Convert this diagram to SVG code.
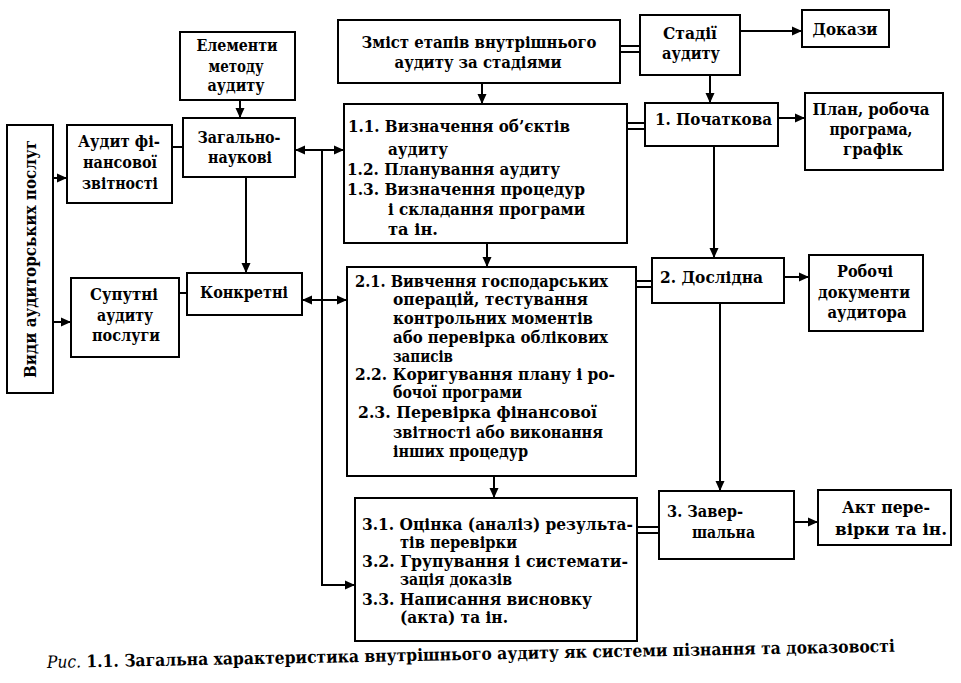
<svg xmlns="http://www.w3.org/2000/svg" width="961" height="683" viewBox="0 0 961 683" font-family="DejaVu Serif Condensed, DejaVu Serif, serif" font-weight="bold" font-size="16">
<defs>
<marker id="ah" viewBox="0 0 10 10" refX="10" refY="5" markerWidth="10" markerHeight="10" markerUnits="userSpaceOnUse" orient="auto-start-reverse">
<path d="M0,0.5 L10,5 L0,9.5 Z" fill="#000"/>
</marker>
<style>
rect{fill:#fff;stroke:#000;stroke-width:2}
text{fill:#000}
.c{text-anchor:middle}
.ln{fill:none;stroke:#000;stroke-width:2}
.ar{fill:none;stroke:#000;stroke-width:2;marker-end:url(#ah)}
.ar2{fill:none;stroke:#000;stroke-width:2;marker-end:url(#ah);marker-start:url(#ah)}
</style>
</defs>
<rect x="0" y="0" width="961" height="683" style="fill:#fff;stroke:none"/>

<g id="connectors">
<path class="ar" d="M53,178 H67"/>
<path class="ar" d="M53,322 H71"/>
<path class="ln" d="M172,147 H183"/>
<path class="ln" d="M179,293 H187"/>
<path class="ar" d="M240,100 V118"/>
<path class="ar" d="M246,177 V273"/>
<path class="ar2" d="M295,150 H344"/>
<path class="ar2" d="M302,300 H347"/>
<path class="ar" d="M322,150 V585 H355"/>
<path class="ar" d="M482,83 V104"/>
<path class="ar" d="M487,243 V267"/>
<path class="ar" d="M494,476 V498"/>
<path class="ln" d="M620,46 H640 M620,52 H640"/>
<path class="ln" d="M627,123 H645 M627,129 H645"/>
<path class="ln" d="M636,281 H652 M636,287 H652"/>
<path class="ln" d="M637,527 H659 M637,533 H659"/>
<path class="ar" d="M740,31 H802"/>
<path class="ar" d="M710,75 V103"/>
<path class="ar" d="M778,118 H805"/>
<path class="ar" d="M714,146 V258"/>
<path class="ar" d="M784,277 H809"/>
<path class="ar" d="M720,303 V491"/>
<path class="ar" d="M794,522 H818"/>
</g>

<g id="vydy">
<rect x="7" y="125" width="46" height="268"/>
<text class="c" transform="translate(36,259) rotate(-90)" textLength="238" lengthAdjust="spacingAndGlyphs">Види аудиторських послуг</text>
</g>
<g id="audyt-fin">
<rect x="67" y="125" width="105" height="78"/>
<text class="c" x="119" y="147" textLength="82" lengthAdjust="spacingAndGlyphs">Аудит фі-</text>
<text class="c" x="120" y="168" textLength="74" lengthAdjust="spacingAndGlyphs">нансової</text>
<text class="c" x="120" y="189" textLength="76" lengthAdjust="spacingAndGlyphs">звітності</text>
</g>
<g id="elementy">
<rect x="180" y="32" width="115" height="68"/>
<text class="c" x="237" y="51" textLength="81" lengthAdjust="spacingAndGlyphs">Елементи</text>
<text class="c" x="236" y="72" textLength="55" lengthAdjust="spacingAndGlyphs">методу</text>
<text class="c" x="236" y="91" textLength="57" lengthAdjust="spacingAndGlyphs">аудиту</text>
</g>
<g id="zagalno">
<rect x="183" y="118" width="112" height="59"/>
<text class="c" x="239" y="143" textLength="83" lengthAdjust="spacingAndGlyphs">Загально-</text>
<text class="c" x="240" y="163" textLength="64" lengthAdjust="spacingAndGlyphs">наукові</text>
</g>
<g id="suputni">
<rect x="71" y="278" width="108" height="79"/>
<text class="c" x="124" y="300" textLength="68" lengthAdjust="spacingAndGlyphs">Супутні</text>
<text class="c" x="125" y="321" textLength="56" lengthAdjust="spacingAndGlyphs">аудиту</text>
<text class="c" x="126" y="341" textLength="68" lengthAdjust="spacingAndGlyphs">послуги</text>
</g>
<g id="konkretni">
<rect x="187" y="273" width="115" height="42"/>
<text class="c" x="244" y="298" textLength="88" lengthAdjust="spacingAndGlyphs">Конкретні</text>
</g>
<g id="zmist">
<rect x="338" y="20" width="282" height="63"/>
<text class="c" x="479" y="48" textLength="235" lengthAdjust="spacingAndGlyphs">Зміст етапів внутрішнього</text>
<text class="c" x="478" y="68" textLength="167" lengthAdjust="spacingAndGlyphs">аудиту за стадіями</text>
</g>
<g id="stadii">
<rect x="640" y="15" width="100" height="60"/>
<text class="c" x="690" y="39" textLength="54" lengthAdjust="spacingAndGlyphs">Стадії</text>
<text class="c" x="691" y="59" textLength="58" lengthAdjust="spacingAndGlyphs">аудиту</text>
</g>
<g id="dokazy">
<rect x="802" y="10" width="87" height="37"/>
<text class="c" x="845" y="35" textLength="65" lengthAdjust="spacingAndGlyphs">Докази</text>
</g>
<g id="etap1">
<rect x="344" y="104" width="283" height="139"/>
<text x="348" y="132" textLength="222" lengthAdjust="spacingAndGlyphs">1.1. Визначення об’єктів</text>
<text x="388" y="155" textLength="60" lengthAdjust="spacingAndGlyphs">аудиту</text>
<text x="347" y="175" textLength="213" lengthAdjust="spacingAndGlyphs">1.2. Планування аудиту</text>
<text x="347" y="195" textLength="238" lengthAdjust="spacingAndGlyphs">1.3. Визначення процедур</text>
<text x="388" y="215" textLength="197" lengthAdjust="spacingAndGlyphs">і складання програми</text>
<text x="388" y="235" textLength="50" lengthAdjust="spacingAndGlyphs">та ін.</text>
</g>
<g id="pochatkova">
<rect x="645" y="103" width="133" height="43"/>
<text x="655" y="125" textLength="117" lengthAdjust="spacingAndGlyphs">1. Початкова</text>
</g>
<g id="plan">
<rect x="805" y="93" width="138" height="77"/>
<text class="c" x="871" y="115" textLength="117" lengthAdjust="spacingAndGlyphs">План, робоча</text>
<text class="c" x="871" y="135" textLength="83" lengthAdjust="spacingAndGlyphs">програма,</text>
<text class="c" x="873" y="155" textLength="60" lengthAdjust="spacingAndGlyphs">графік</text>
</g>
<g id="etap2">
<rect x="347" y="267" width="289" height="209"/>
<text x="355" y="287" textLength="253" lengthAdjust="spacingAndGlyphs">2.1. Вивчення господарських</text>
<text x="393" y="305" textLength="195" lengthAdjust="spacingAndGlyphs">операцій, тестування</text>
<text x="393" y="324" textLength="200" lengthAdjust="spacingAndGlyphs">контрольних моментів</text>
<text x="393" y="343" textLength="215" lengthAdjust="spacingAndGlyphs">або перевірка облікових</text>
<text x="393" y="362" textLength="60" lengthAdjust="spacingAndGlyphs">записів</text>
<text x="355" y="380" textLength="260" lengthAdjust="spacingAndGlyphs">2.2. Коригування плану і ро-</text>
<text x="393" y="398" textLength="129" lengthAdjust="spacingAndGlyphs">бочої програми</text>
<text x="358" y="418" textLength="239" lengthAdjust="spacingAndGlyphs">2.3. Перевірка фінансової</text>
<text x="393" y="438" textLength="210" lengthAdjust="spacingAndGlyphs">звітності або виконання</text>
<text x="393" y="457" textLength="135" lengthAdjust="spacingAndGlyphs">інших процедур</text>
</g>
<g id="doslidna">
<rect x="652" y="258" width="132" height="45"/>
<text x="660" y="283" textLength="103" lengthAdjust="spacingAndGlyphs">2. Дослідна</text>
</g>
<g id="robochi">
<rect x="809" y="255" width="114" height="76"/>
<text class="c" x="865" y="277" textLength="56" lengthAdjust="spacingAndGlyphs">Робочі</text>
<text class="c" x="864" y="298" textLength="92" lengthAdjust="spacingAndGlyphs">документи</text>
<text class="c" x="867" y="318" textLength="79" lengthAdjust="spacingAndGlyphs">аудитора</text>
</g>
<g id="etap3">
<rect x="355" y="498" width="282" height="143"/>
<text x="362" y="530" textLength="271" lengthAdjust="spacingAndGlyphs">3.1. Оцінка (аналіз) результа-</text>
<text x="400" y="548" textLength="117" lengthAdjust="spacingAndGlyphs">тів перевірки</text>
<text x="362" y="567" textLength="266" lengthAdjust="spacingAndGlyphs">3.2. Групування і системати-</text>
<text x="400" y="585" textLength="112" lengthAdjust="spacingAndGlyphs">зація доказів</text>
<text x="362" y="605" textLength="230" lengthAdjust="spacingAndGlyphs">3.3. Написання висновку</text>
<text x="400" y="623" textLength="108" lengthAdjust="spacingAndGlyphs">(акта) та ін.</text>
</g>
<g id="zavershalna">
<rect x="659" y="491" width="135" height="68"/>
<text x="667" y="517" textLength="76" lengthAdjust="spacingAndGlyphs">3. Завер-</text>
<text x="692" y="538" textLength="63" lengthAdjust="spacingAndGlyphs">шальна</text>
</g>
<g id="akt">
<rect x="818" y="490" width="133" height="55"/>
<text class="c" x="886" y="513" textLength="88" lengthAdjust="spacingAndGlyphs">Акт пере-</text>
<text class="c" x="891" y="535" textLength="112" lengthAdjust="spacingAndGlyphs">вірки та ін.</text>
</g>
<g id="caption">
<text x="47" y="668" font-size="17" transform="rotate(-1.1 47 668)" textLength="848" lengthAdjust="spacingAndGlyphs"><tspan font-style="italic" font-weight="normal">Рис.</tspan> 1.1. Загальна характеристика внутрішнього аудиту як системи пізнання та доказовості</text>
</g>
</svg>
